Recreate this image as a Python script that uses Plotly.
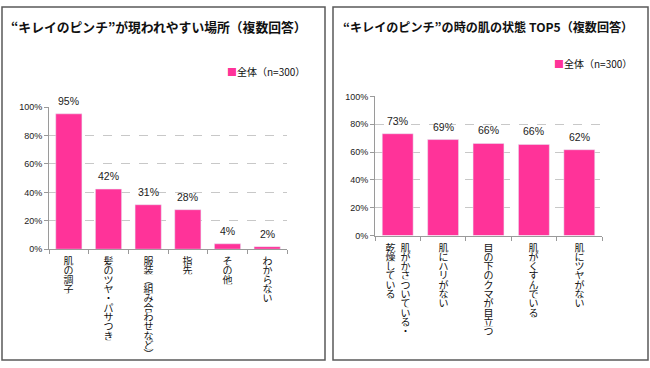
import plotly.graph_objects as go

W, H = 650, 368

# ---------------- data ----------------
left_title = "“キレイのピンチ”が現われやすい場所（複数回答）"
right_title = "“キレイのピンチ”の時の肌の状態 TOP5（複数回答）"
series_name = "全体（n=300）"

left_categories = ["肌の調子", "髪のツヤ・パサつき", "服装（組み合わせなど）", "指先", "その他", "わからない"]
left_values = [95.3, 42.3, 31.3, 27.8, 3.8, 1.8]

right_categories = ["肌がかさついている・乾燥している", "肌にハリがない", "目の下のクマが目立つ",
                    "肌がくすんでいる", "肌にツヤがない"]
# vertical writing columns (right to left)
right_label_columns = [["肌がかさついている・", "乾燥している"], ["肌にハリがない"], ["目の下のクマが目立つ"],
                       ["肌がくすんでいる"], ["肌にツヤがない"]]
right_values = [73.2, 69.0, 66.2, 65.5, 61.7]

y_ticks = [0, 20, 40, 60, 80, 100]
y_tick_labels = ["0%", "20%", "40%", "60%", "80%", "100%"]

# ---------------- style ----------------
PINK = "#FF3399"
CJK = "Noto Sans CJK JP"
LAT = "Liberation Sans, Arial, sans-serif"
AXIS_COLOR = "#9a9a9a"
GRID_COLOR = "#c8c8c8"

VERT = {"（": "︵", "）": "︶"}

fig = go.Figure()

fig.add_trace(go.Bar(x=left_categories, y=left_values, marker_color=PINK, width=0.66,
                     xaxis="x", yaxis="y", name=series_name, showlegend=False))
fig.add_trace(go.Bar(x=right_categories, y=right_values, marker_color=PINK, width=0.68,
                     xaxis="x2", yaxis="y2", name=series_name, showlegend=False))


def xaxis_style(domain, anchor):
    return dict(domain=domain, anchor=anchor, type="category", showticklabels=False,
                tickson="boundaries", ticks="outside", ticklen=4, tickcolor=AXIS_COLOR,
                showline=True, linecolor=AXIS_COLOR, linewidth=1, showgrid=False,
                zeroline=False, fixedrange=True)


def yaxis_style(domain, anchor):
    return dict(domain=domain, anchor=anchor, range=[0, 100], tickmode="array",
                tickvals=y_ticks, ticktext=y_tick_labels,
                ticks="outside", ticklen=4, tickcolor=AXIS_COLOR, showline=True,
                linecolor=AXIS_COLOR, linewidth=1, showgrid=True, gridcolor=GRID_COLOR,
                griddash="dash", gridwidth=1, zeroline=False,
                tickfont=dict(family=LAT, size=9, color="#222"), fixedrange=True)


fig.update_layout(
    width=W, height=H, margin=dict(l=0, r=0, t=0, b=0),
    paper_bgcolor="white", plot_bgcolor="white",
    xaxis=xaxis_style([49 / W, 287 / W], "y"),
    yaxis=yaxis_style([1 - 251 / H, 1 - 105 / H], "x"),
    xaxis2=xaxis_style([375 / W, 602 / W], "y2"),
    yaxis2=yaxis_style([1 - 237 / H, 1 - 94 / H], "x2"),
    showlegend=False,
)

ann = []
STEP = 9.3


def vertical_labels(categories, columns_list, xref, yref, offsets):
    for cat, cols in zip(categories, columns_list):
        n = len(cols)
        for ci, col in enumerate(cols):
            xs = offsets[n][ci]
            for i, ch in enumerate(col):
                ann.append(dict(x=cat, y=0, xref=xref, yref=yref, xanchor="center", yanchor="top",
                                yshift=-(6 + i * STEP), xshift=xs, showarrow=False,
                                text=VERT.get(ch, ch), borderpad=0, height=STEP, width=11,
                                font=dict(family=CJK, size=10, color="#111")))


offs = {1: [0], 2: [7.5, -7.5]}
vertical_labels(left_categories, [[c] for c in left_categories], "x", "y", offs)
vertical_labels(right_categories, right_label_columns, "x2", "y2", offs)

# data labels
for cats, vals, xr, yr in [(left_categories, left_values, "x", "y"),
                           (right_categories, right_values, "x2", "y2")]:
    for c, v in zip(cats, vals):
        ann.append(dict(x=c, y=v, xref=xr, yref=yr, xanchor="center", yanchor="bottom", yshift=5,
                        showarrow=False, text=f"{round(v)}%",
                        font=dict(family=LAT, size=10.5, color="#222")))

# titles
ann.append(dict(x=158.5 / W, y=1 - 22 / H, xref="paper", yref="paper", xanchor="center",
                yanchor="middle", showarrow=False,
                text=left_title, font=dict(family=CJK, size=12.8, color="#111", weight=600)))
ann.append(dict(x=488 / W, y=1 - 22 / H, xref="paper", yref="paper", xanchor="center",
                yanchor="middle", showarrow=False,
                text=right_title, font=dict(family=CJK, size=12.1, color="#111", weight=600)))

# legends
for xr, yc in [(307 / W, 68), (634 / W, 60)]:
    ann.append(dict(x=xr, y=1 - yc / H, xref="paper", yref="paper", xanchor="right",
                    yanchor="middle", showarrow=False,
                    text=f"<span style='color:{PINK}'>■</span>{series_name}",
                    font=dict(family=CJK, size=10, color="#111")))

fig.update_layout(annotations=ann)

# panel borders
shapes = []
for x0, x1 in [(2, 325), (333, 648)]:
    shapes.append(dict(type="rect", xref="paper", yref="paper", x0=x0 / W, x1=x1 / W,
                       y0=1 - 365 / H, y1=1 - 2 / H, line=dict(color="#5a5a5a", width=1.5),
                       fillcolor="rgba(0,0,0,0)", layer="below"))
fig.update_layout(shapes=shapes)

fig.write_html("out.html", config={"displayModeBar": False},
               post_script="document.body.style.margin='0';")
